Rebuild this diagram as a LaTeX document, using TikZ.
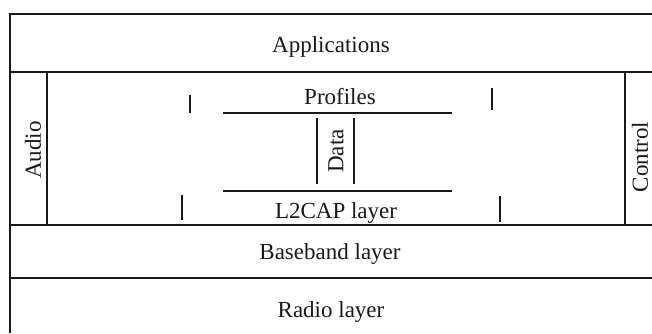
\documentclass[tikz,border=0pt]{standalone}
\usepackage{fontspec}
\setmainfont{Liberation Serif}
\begin{document}
\begin{tikzpicture}[x=1pt,y=-1pt,
  rule/.style={line width=1.5pt,black!90},
  tick/.style={line width=2.2pt,black!90},
  lbl/.style={font=\fontsize{23}{23}\selectfont,text=black!90,inner sep=0pt},
  rot/.style={lbl,rotate=90}]
\useasboundingbox (0,0) rectangle (652,333);
% frame
\draw[rule] (652,14) -- (10,14) -- (10,333);
\draw[rule] (10,72) -- (652,72);
\draw[rule] (10,225) -- (652,225);
\draw[rule] (10,278) -- (652,278);
\draw[rule] (47,72) -- (47,225);
\draw[rule] (625,72) -- (625,225);
% inner lines
\draw[rule] (223,113) -- (452,113);
\draw[rule] (223,191) -- (452,191);
\draw[rule] (317,118) -- (317,184);
\draw[rule] (354,118) -- (354,184);
% ticks
\draw[tick] (190,95) -- (190,113);
\draw[tick] (492,88) -- (492,110);
\draw[tick] (182,195) -- (182,220);
\draw[tick] (500,196) -- (500,222);
% labels
\node[lbl,anchor=base] (app) at (331,52) {Applications};
\node[lbl,anchor=base] (prof) at (340,104) {Profiles};
\node[lbl,anchor=base] (l2cap) at (336,218) {L2CAP layer};
\node[lbl,anchor=base] (base) at (330,259) {Baseband layer};
\node[lbl,anchor=base] (radio) at (331,317) {Radio layer};
\node[rot] (data) at (336,151) {Data};
\node[rot] (audio) at (33,150) {Audio};
\node[rot] (ctrl) at (640,157) {Control};
\end{tikzpicture}
\end{document}
